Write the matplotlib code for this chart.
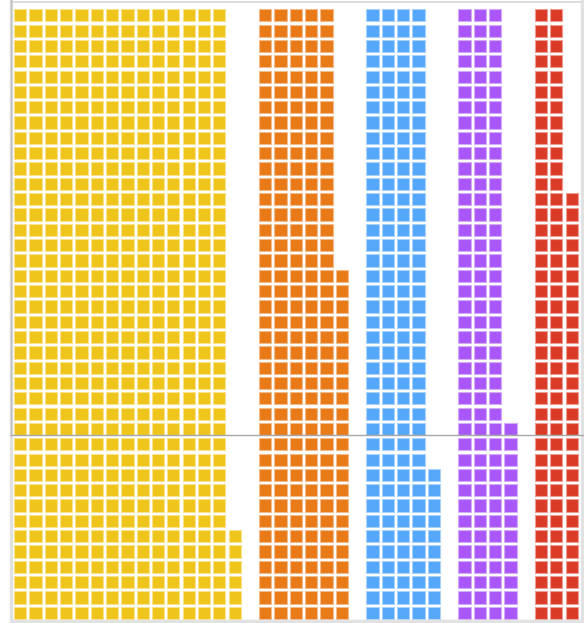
import matplotlib
matplotlib.use("Agg")
from matplotlib import pyplot as plt
from matplotlib.patches import Rectangle
from matplotlib.lines import Line2D

# counts per group (one square = one unit)
groups = ["yellow", "orange", "blue", "purple", "red"]
counts = [566, 223, 170, 133, 108]
colors = ["#EFC51B", "#E97A18", "#55A7F9", "#A957F8", "#D93B26"]
edge_colors = ["#F8E38A", "#F4BB8A", "#A9D3FC", "#D4ABFC", "#EC9C92"]

rows = 40      # squares per column
gap_cols = 1   # empty column between groups

fig = plt.figure(figsize=(5.84, 6.23), dpi=100)
ax = fig.add_axes([0, 0, 1, 1])

W, H = 584, 623
pitch = 15.32
x0_px, y_bottom_px = 12.5, 620.5
ax.set_xlim(-x0_px / pitch, (W - x0_px) / pitch)
ax.set_ylim(-(H - y_bottom_px) / pitch, y_bottom_px / pitch)
ax.axis("off")

col = 0
for n, c, ec in zip(counts, colors, edge_colors):
    for i in range(n):
        cx = col + i // rows
        cy = i % rows
        ax.add_patch(Rectangle((cx + 0.1, cy + 0.1), 0.8, 0.8,
                               facecolor=c, edgecolor=ec, linewidth=0.8))
    col += -(-n // rows) + gap_cols

# frame bits from the screenshot
def px_line(x, y, color, lw):
    fig.add_artist(Line2D([v / W for v in x], [1 - v / H for v in y],
                          color=color, linewidth=lw, transform=fig.transFigure))

px_line([11, 11], [623, 0], "#e2e2e2", 2.5)
px_line([11, 584], [2, 2], "#d6d6d6", 1.2)
px_line([11, 11], [0, 435], "#bdbdbd", 1.0)
px_line([11, 584], [621, 621], "#e2e2e2", 2.5)
px_line([582, 582], [0, 623], "#e2e2e2", 2.5)
px_line([11, 584], [435, 435], "#a8a8a8", 1.0)

fig.savefig("out.png", dpi=100)
